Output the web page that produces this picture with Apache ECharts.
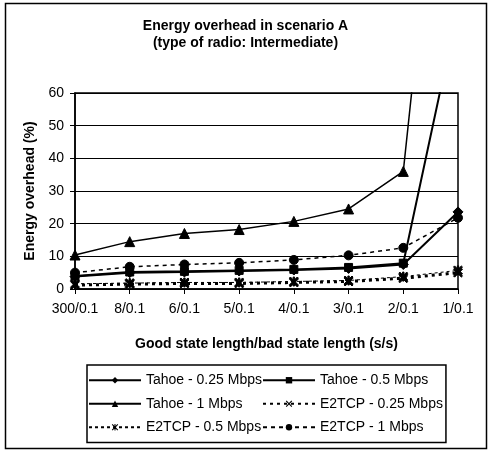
<!DOCTYPE html>
<html>
<head>
<meta charset="utf-8">
<script src="https://cdn.jsdelivr.net/npm/echarts@6/dist/echarts.min.js"></script>
<style>
html,body{margin:0;padding:0;background:#fff;}
#chart{width:491px;height:451px;}
</style>
</head>
<body>
<div id="chart"></div>
<script>
var categories = ['300/0.1','8/0.1','6/0.1','5/0.1','4/0.1','3/0.1','2/0.1','1/0.1'];
var tahoe025 = [3.8, 5.0, 5.2, 5.5, 5.8, 6.3, 7.5, 23.6];
var tahoe05  = [4.0, 5.2, 5.4, 5.7, 6.0, 6.6, 7.9, 86];
var tahoe1   = [10.4, 14.5, 17.0, 18.2, 20.7, 24.5, 36.0, 194];
var e2tcp025 = [1.2, 1.5, 1.7, 1.7, 2.0, 2.3, 3.3, 5.0];
var e2tcp05  = [1.6, 1.8, 2.0, 2.0, 2.3, 2.6, 3.8, 5.7];
var e2tcp1   = [5.0, 6.8, 7.5, 8.0, 8.9, 10.3, 12.6, 21.8];
var yTicks = [0, 10, 20, 30, 40, 50, 60];

var FONT = 'Arial, "Liberation Sans", sans-serif';
var XSYM = 'path://M0,1.2 L1.2,0 L5,3.8 L8.8,0 L10,1.2 L6.2,5 L10,8.8 L8.8,10 L5,6.2 L1.2,10 L0,8.8 L3.8,5 Z';
var ASYM = 'path://M0,1.2 L1.2,0 L5,3.8 L8.8,0 L10,1.2 L6.2,5 L10,8.8 L8.8,10 L5,6.2 L1.2,10 L0,8.8 L3.8,5 Z M4.2,0 L5.8,0 L5.8,10 L4.2,10 Z';

function mk(name, data, symbol, size, lw, type) {
  return {
    name: name, type: 'line', data: data, symbol: symbol, symbolSize: size,
    clip: true,
    itemStyle: {color: '#000', borderColor: '#000'},
    lineStyle: {color: '#000', width: lw, type: type},
    animation: false
  };
}

var chart = echarts.init(document.getElementById('chart'), null, {renderer: 'canvas'});
chart.setOption({
  backgroundColor: '#fff',
  animation: false,
  title: {
    text: 'Energy overhead in scenario A\n(type of radio: Intermediate)',
    left: 'center', top: 18, padding: 0,
    textStyle: {fontFamily: FONT, fontSize: 14, fontWeight: 'bold', color: '#000', lineHeight: 17}
  },
  graphic: [{
    type: 'rect', shape: {x: 5.5, y: 3.5, width: 481, height: 445},
    style: {fill: 'none', stroke: '#000', lineWidth: 1.5}, z: -1
  }],
  grid: {left: 75, right: 33, top: 93, bottom: 162, show: true, borderColor: '#000', borderWidth: 1.5},
  xAxis: {
    type: 'category', data: categories, boundaryGap: false,
    name: 'Good state length/bad state length (s/s)', nameLocation: 'middle', nameGap: 48,
    nameTextStyle: {fontFamily: FONT, fontSize: 14, fontWeight: 'bold', color: '#000'},
    axisLine: {lineStyle: {color: '#000', width: 1.5}},
    axisTick: {show: true, alignWithLabel: true, length: 5, lineStyle: {color: '#000'}},
    axisLabel: {fontFamily: FONT, fontSize: 14, color: '#000', margin: 13, interval: 0}
  },
  yAxis: {
    type: 'value', min: yTicks[0], max: yTicks[yTicks.length - 1], interval: 10,
    name: 'Energy overhead (%)', nameLocation: 'middle', nameGap: 31, nameRotate: 90,
    nameTextStyle: {fontFamily: FONT, fontSize: 14, fontWeight: 'bold', color: '#000'},
    axisLine: {show: true, lineStyle: {color: '#000', width: 1.5}},
    axisTick: {show: true, length: 5, lineStyle: {color: '#000'}},
    axisLabel: {fontFamily: FONT, fontSize: 14, color: '#000', margin: 11},
    splitLine: {show: true, lineStyle: {color: '#000', width: 1}}
  },
  legend: {
    left: 87, top: 365, width: 380,
    orient: 'horizontal',
    itemWidth: 52, itemHeight: 8, itemGap: 0,
    padding: [3.5, 3, 3.5, 1],
    borderColor: '#000', borderWidth: 1.5,
    textStyle: {fontFamily: FONT, fontSize: 14, color: '#000', width: 116, lineHeight: 23.5},
    data: ['Tahoe - 0.25 Mbps','Tahoe - 0.5 Mbps','Tahoe - 1 Mbps','E2TCP - 0.25 Mbps','E2TCP - 0.5 Mbps','E2TCP - 1 Mbps']
  },
  series: [
    mk('Tahoe - 0.25 Mbps', tahoe025, 'diamond', 10, 2, 'solid'),
    mk('Tahoe - 0.5 Mbps', tahoe05, 'rect', 8, 2, 'solid'),
    mk('Tahoe - 1 Mbps', tahoe1, 'triangle', 10, 1.5, 'solid'),
    mk('E2TCP - 0.25 Mbps', e2tcp025, XSYM, 9, 3, [3, 4]),
    mk('E2TCP - 0.5 Mbps', e2tcp05, ASYM, 9, 1, [3, 3]),
    mk('E2TCP - 1 Mbps', e2tcp1, 'circle', 9, 1.5, [4, 4])
  ]
});
</script>
</body>
</html>
